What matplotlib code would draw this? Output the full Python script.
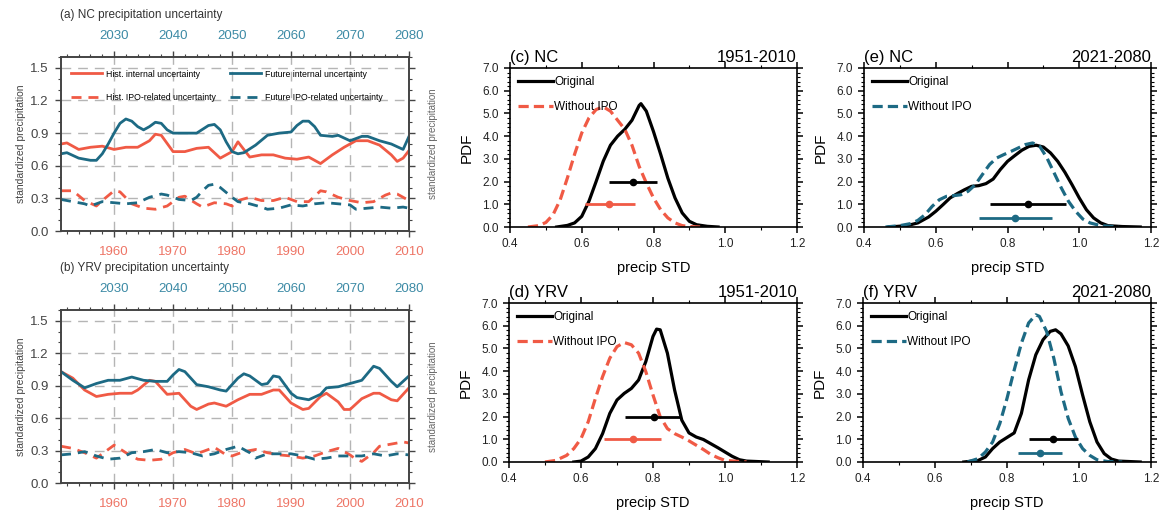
import numpy as np
import matplotlib.pyplot as plt
from matplotlib.ticker import MultipleLocator, FormatStrFormatter

plt.rcParams['font.family'] = ['Liberation Sans', 'DejaVu Sans']

RED = '#f05a45'
TEAL = '#1d6a84'
RED_LBL = '#ee7566'
TEAL_LBL = '#3c8aa5'
GRAY = '#444444'

# ---------------- (a) NC time series ----------------
nc_hist_int_yr = [1951, 1952, 1954, 1956, 1958, 1960, 1962, 1964, 1966, 1967, 1968, 1970, 1972, 1974,
                  1976, 1978, 1980, 1981, 1983, 1985, 1987, 1989, 1991, 1993, 1995, 1997, 1999, 2001,
                  2003, 2005, 2007, 2008, 2009, 2010]
nc_hist_int = [0.80, 0.81, 0.75, 0.77, 0.78, 0.75, 0.77, 0.77, 0.83, 0.89, 0.88, 0.73, 0.73, 0.76,
               0.77, 0.67, 0.73, 0.82, 0.68, 0.70, 0.70, 0.67, 0.66, 0.68, 0.62, 0.70, 0.77, 0.83,
               0.83, 0.79, 0.70, 0.64, 0.67, 0.74]

nc_fut_int_yr = [2021, 2022, 2024, 2026, 2027, 2028, 2029, 2030, 2031, 2032, 2033, 2034, 2035, 2036,
                 2037, 2038, 2039, 2040, 2042, 2044, 2046, 2047, 2048, 2049, 2050, 2051, 2052, 2054,
                 2056, 2058, 2060, 2061, 2062, 2063, 2064, 2065, 2067, 2068, 2070, 2072, 2073, 2075,
                 2077, 2079, 2080]
nc_fut_int = [0.71, 0.72, 0.67, 0.65, 0.65, 0.71, 0.80, 0.90, 0.99, 1.03, 1.01, 0.96, 0.93, 0.96,
              1.00, 0.99, 0.93, 0.90, 0.90, 0.90, 0.97, 0.98, 0.93, 0.82, 0.73, 0.71, 0.72, 0.79,
              0.88, 0.90, 0.91, 0.97, 1.01, 1.01, 0.96, 0.88, 0.87, 0.88, 0.83, 0.87, 0.87, 0.83,
              0.80, 0.75, 0.87]

nc_hist_ipo_yr = [1951, 1953, 1955, 1957, 1958, 1960, 1961, 1963, 1965, 1967, 1969, 1971, 1972, 1974,
                  1975, 1977, 1979, 1980, 1981, 1983, 1985, 1987, 1989, 1991, 1993, 1995, 1996, 1998,
                  2000, 2002, 2004, 2006, 2007, 2008, 2010]
nc_hist_ipo = [0.37, 0.37, 0.28, 0.23, 0.28, 0.37, 0.36, 0.25, 0.21, 0.20, 0.23, 0.31, 0.32, 0.25,
               0.22, 0.26, 0.25, 0.23, 0.28, 0.31, 0.28, 0.28, 0.31, 0.27, 0.27, 0.37, 0.36, 0.31,
               0.28, 0.26, 0.27, 0.33, 0.35, 0.34, 0.28]

nc_fut_ipo_yr = [2021, 2023, 2025, 2026, 2028, 2030, 2032, 2034, 2036, 2038, 2039, 2041, 2043, 2044,
                 2045, 2046, 2047, 2048, 2050, 2051, 2053, 2055, 2056, 2058, 2060, 2062, 2064, 2066,
                 2068, 2070, 2071, 2073, 2075, 2077, 2079, 2080]
nc_fut_ipo = [0.29, 0.27, 0.25, 0.23, 0.27, 0.26, 0.25, 0.26, 0.31, 0.34, 0.33, 0.29, 0.28, 0.31,
              0.37, 0.42, 0.43, 0.40, 0.31, 0.27, 0.25, 0.22, 0.20, 0.21, 0.24, 0.23, 0.25, 0.26,
              0.25, 0.24, 0.20, 0.21, 0.22, 0.21, 0.22, 0.21]

# ---------------- (b) YRV time series ----------------
yrv_hist_int_yr = [1951, 1953, 1955, 1957, 1959, 1961, 1963, 1964, 1966, 1967, 1969, 1971, 1973, 1974,
                   1976, 1977, 1979, 1981, 1983, 1985, 1987, 1988, 1990, 1992, 1993, 1995, 1996, 1998,
                   1999, 2000, 2002, 2004, 2005, 2007, 2008, 2010]
yrv_hist_int = [1.03, 0.97, 0.86, 0.80, 0.82, 0.83, 0.83, 0.86, 0.95, 0.94, 0.82, 0.83, 0.71, 0.68,
                0.73, 0.74, 0.71, 0.77, 0.82, 0.82, 0.86, 0.86, 0.74, 0.68, 0.69, 0.80, 0.83, 0.75,
                0.68, 0.68, 0.78, 0.83, 0.83, 0.77, 0.76, 0.88]

yrv_fut_int_yr = [2021, 2023, 2025, 2027, 2029, 2031, 2033, 2035, 2037, 2039, 2040, 2041, 2042, 2044,
                  2046, 2048, 2049, 2051, 2052, 2053, 2055, 2056, 2057, 2058, 2060, 2061, 2063, 2065,
                  2066, 2068, 2070, 2072, 2074, 2075, 2077, 2078, 2080]
yrv_fut_int = [1.03, 0.95, 0.88, 0.92, 0.95, 0.95, 0.98, 0.95, 0.94, 0.94, 1.00, 1.05, 1.03, 0.91,
               0.89, 0.86, 0.85, 0.97, 1.01, 0.99, 0.91, 0.92, 0.99, 0.98, 0.83, 0.79, 0.77, 0.82,
               0.88, 0.89, 0.92, 0.95, 1.08, 1.06, 0.94, 0.89, 0.99]

yrv_hist_ipo_yr = [1951, 1953, 1955, 1957, 1959, 1960, 1962, 1964, 1966, 1968, 1970, 1972, 1974, 1976,
                   1977, 1979, 1980, 1982, 1984, 1986, 1988, 1990, 1992, 1994, 1996, 1998, 2000, 2001,
                   2002, 2004, 2005, 2007, 2009, 2010]
yrv_hist_ipo = [0.34, 0.32, 0.28, 0.23, 0.31, 0.35, 0.28, 0.22, 0.21, 0.22, 0.28, 0.31, 0.27, 0.31,
                0.33, 0.26, 0.25, 0.29, 0.31, 0.28, 0.26, 0.25, 0.23, 0.25, 0.29, 0.32, 0.26, 0.22,
                0.20, 0.28, 0.34, 0.36, 0.38, 0.37]

yrv_fut_ipo_yr = [2021, 2023, 2025, 2027, 2029, 2031, 2033, 2035, 2037, 2039, 2041, 2043, 2045, 2047,
                  2049, 2051, 2053, 2054, 2056, 2058, 2060, 2062, 2064, 2066, 2068, 2070, 2072, 2074,
                  2076, 2078, 2080]
yrv_fut_ipo = [0.26, 0.27, 0.29, 0.25, 0.22, 0.23, 0.28, 0.29, 0.31, 0.28, 0.29, 0.28, 0.25, 0.27,
               0.31, 0.34, 0.28, 0.23, 0.27, 0.27, 0.27, 0.25, 0.22, 0.23, 0.25, 0.25, 0.25, 0.27,
               0.25, 0.27, 0.26]

# ---------------- PDFs ----------------
c_orig_x = [0.53, 0.56, 0.58, 0.60, 0.62, 0.64, 0.66, 0.68, 0.70, 0.72, 0.74, 0.76, 0.765, 0.78,
            0.80, 0.82, 0.84, 0.86, 0.88, 0.90, 0.92, 0.95, 0.98]
c_orig_y = [0.0, 0.07, 0.18, 0.47, 1.13, 2.0, 2.9, 3.6, 4.0, 4.3, 4.7, 5.35, 5.43, 5.1,
            4.2, 3.2, 2.15, 1.28, 0.62, 0.25, 0.1, 0.03, 0.0]
c_noipo_x = [0.45, 0.48, 0.50, 0.52, 0.54, 0.56, 0.58, 0.60, 0.62, 0.64, 0.66, 0.68, 0.70, 0.72,
             0.74, 0.76, 0.78, 0.80, 0.82, 0.84, 0.86, 0.88, 0.90, 0.93]
c_noipo_y = [0.0, 0.06, 0.2, 0.54, 1.2, 2.16, 3.2, 4.14, 4.8, 5.17, 5.29, 5.1, 4.7, 4.3,
             3.6, 2.67, 1.94, 1.28, 0.76, 0.4, 0.18, 0.06, 0.02, 0.0]

d_orig_x = [0.58, 0.60, 0.62, 0.64, 0.66, 0.68, 0.70, 0.72, 0.74, 0.76, 0.78, 0.80, 0.81, 0.82,
            0.84, 0.86, 0.88, 0.90, 0.92, 0.94, 0.96, 0.98, 1.00, 1.02, 1.04, 1.06, 1.12]
d_orig_y = [0.0, 0.04, 0.22, 0.59, 1.25, 2.14, 2.73, 3.02, 3.24, 3.61, 4.42, 5.53, 5.85, 5.82,
            4.79, 3.17, 1.84, 1.28, 1.1, 0.99, 0.81, 0.63, 0.44, 0.25, 0.1, 0.04, 0.0]
d_noipo_x = [0.50, 0.53, 0.56, 0.58, 0.60, 0.62, 0.64, 0.66, 0.68, 0.70, 0.72, 0.74, 0.76, 0.78,
             0.80, 0.82, 0.84, 0.86, 0.88, 0.90, 0.92, 0.94, 0.96, 0.98, 1.00, 1.06]
d_noipo_y = [0.0, 0.07, 0.29, 0.59, 1.03, 1.77, 2.8, 3.76, 4.57, 5.08, 5.26, 5.16, 4.79, 3.98,
             2.95, 1.99, 1.47, 1.25, 1.1, 0.93, 0.74, 0.55, 0.34, 0.19, 0.07, 0.0]

e_orig_x = [0.47, 0.52, 0.55, 0.58, 0.60, 0.62, 0.64, 0.66, 0.68, 0.70, 0.72, 0.74, 0.76, 0.78,
            0.80, 0.82, 0.84, 0.86, 0.88, 0.90, 0.92, 0.94, 0.96, 0.98, 1.00, 1.02, 1.04, 1.06,
            1.08, 1.12, 1.17]
e_orig_y = [0.0, 0.06, 0.18, 0.44, 0.69, 0.98, 1.28, 1.47, 1.64, 1.79, 1.82, 1.91, 2.11, 2.53,
            2.89, 3.14, 3.38, 3.55, 3.6, 3.52, 3.26, 2.89, 2.41, 1.86, 1.28, 0.76, 0.4, 0.18,
            0.06, 0.02, 0.0]
e_noipo_x = [0.46, 0.50, 0.53, 0.55, 0.57, 0.59, 0.61, 0.63, 0.65, 0.67, 0.69, 0.71, 0.73, 0.75,
             0.77, 0.79, 0.81, 0.83, 0.85, 0.87, 0.89, 0.91, 0.93, 0.95, 0.97, 0.99, 1.01, 1.03,
             1.06, 1.11]
e_noipo_y = [0.0, 0.06, 0.15, 0.29, 0.54, 0.91, 1.2, 1.35, 1.38, 1.42, 1.57, 1.86, 2.31, 2.75,
             3.04, 3.19, 3.33, 3.48, 3.63, 3.70, 3.55, 3.04, 2.38, 1.72, 1.13, 0.69, 0.35, 0.18,
             0.06, 0.0]

f_orig_x = [0.68, 0.72, 0.74, 0.76, 0.78, 0.80, 0.82, 0.84, 0.86, 0.88, 0.90, 0.92, 0.935, 0.95,
            0.97, 0.99, 1.01, 1.03, 1.05, 1.07, 1.09, 1.11, 1.17]
f_orig_y = [0.0, 0.07, 0.22, 0.59, 0.88, 1.08, 1.28, 2.14, 3.61, 4.72, 5.38, 5.75, 5.82, 5.64,
            5.11, 4.2, 2.95, 1.77, 0.88, 0.37, 0.13, 0.04, 0.0]
f_noipo_x = [0.69, 0.72, 0.74, 0.76, 0.78, 0.80, 0.82, 0.84, 0.86, 0.88, 0.89, 0.91, 0.93, 0.95,
             0.97, 0.99, 1.01, 1.03, 1.05, 1.08, 1.12]
f_noipo_y = [0.0, 0.15, 0.44, 0.88, 1.69, 2.8, 4.05, 5.23, 6.12, 6.48, 6.41, 5.75, 4.57, 3.09,
             1.92, 1.1, 0.59, 0.29, 0.1, 0.02, 0.0]

# spread bars: [low, mean, high, y]
c_bar_orig = [0.677, 0.744, 0.809, 2.0]
c_bar_noipo = [0.609, 0.677, 0.749, 1.0]
d_bar_orig = [0.722, 0.804, 0.876, 2.0]
d_bar_noipo = [0.665, 0.744, 0.823, 1.0]
e_bar_orig = [0.751, 0.856, 0.962, 1.0]
e_bar_noipo = [0.720, 0.822, 0.925, 0.4]
f_bar_orig = [0.860, 0.929, 0.997, 1.0]
f_bar_noipo = [0.830, 0.891, 0.952, 0.4]

W, H = 1162, 514
fig = plt.figure(figsize=(W / 100, H / 100), dpi=100)


def px_axes(l, t, r, b):
    return fig.add_axes([l / W, 1 - b / H, (r - l) / W, (b - t) / H])


def ts_panel(rect, title, title_y, hy, hv, fy, fv, hiy, hiv, fiy, fiv, legend):
    ax = px_axes(*rect)
    ax.set_xlim(1951, 2010)
    ax.set_ylim(0, 1.6)
    ax2 = ax.twiny()
    ax2.set_xlim(2021, 2080)
    l1, = ax.plot(hy, hv, color=RED, lw=2.0, label='Hist. internal uncertainty')
    l3, = ax.plot(hiy, hiv, color=RED, lw=2.0, ls=(0, (3.6, 2.5)), label='Hist. IPO-related uncertainty')
    l2, = ax2.plot(fy, fv, color=TEAL, lw=2.0, label='Future internal uncertainty')
    l4, = ax2.plot(fiy, fiv, color=TEAL, lw=2.0, ls=(0, (3.6, 2.5)), label='Future IPO-related uncertainty')

    ax.set_xticks([1960, 1970, 1980, 1990, 2000, 2010])
    ax.xaxis.set_minor_locator(MultipleLocator(2))
    ax2.set_xticks([2030, 2040, 2050, 2060, 2070, 2080])
    ax2.xaxis.set_minor_locator(MultipleLocator(2))
    ax.set_yticks([0.0, 0.3, 0.6, 0.9, 1.2, 1.5])
    ax.yaxis.set_minor_locator(MultipleLocator(0.1))
    ax.yaxis.set_major_formatter(FormatStrFormatter('%.1f'))
    ax.grid(True, which='major', color='#b5b5b5', ls=(0, (7, 5)), lw=1.0)
    ax.set_axisbelow(True)

    ax.tick_params(axis='x', which='both', direction='out', top=False, colors=GRAY,
                   labelcolor=RED_LBL, labelsize=9.5, pad=7)
    ax.tick_params(axis='y', which='both', direction='out', right=True, colors=GRAY,
                   labelcolor=GRAY, labelsize=9.5, pad=5)
    ax2.tick_params(axis='x', which='both', direction='out', colors=GRAY,
                    labelcolor=TEAL_LBL, labelsize=9.5, pad=6.5)
    for a in (ax, ax2):
        a.tick_params(which='major', length=4, width=1)
        a.tick_params(which='minor', length=2.5, width=0.8)
        for s in a.spines.values():
            s.set_color(GRAY)
            s.set_linewidth(1.2)

    ax.set_ylabel('standardized precipitation', fontsize=7.5, color=GRAY, labelpad=3)
    ax.text(1.069, 0.5, 'standardized precipitation', transform=ax.transAxes, rotation=90,
            ha='center', va='center', fontsize=7, color='#666666')
    fig.text(60 / W, 1 - title_y / H, title, fontsize=8.5, color='#333333', va='center', ha='left')

    if legend:
        ax2.legend([l1, l3, l2, l4], [l.get_label() for l in (l1, l3, l2, l4)], ncol=2,
                   loc='upper left', bbox_to_anchor=(0.015, 0.958), frameon=False, fontsize=6.3,
                   handlelength=3.5, handletextpad=0.5, columnspacing=1.6, labelspacing=1.7,
                   borderaxespad=0.2)
    return ax


def pdf_panel(rect, tag, period, col, ox, oy, nx, ny, bo, bn):
    ax = px_axes(*rect)
    ax.plot(ox, oy, color='black', lw=2.3, label='Original', solid_joinstyle='round')
    ax.plot(nx, ny, color=col, lw=2.3, ls=(0, (3.2, 1.6)), label='Without IPO')
    ax.hlines(bo[3], bo[0], bo[2], color='black', lw=2)
    ax.plot(bo[1], bo[3], 'o', color='black', ms=4.5)
    ax.hlines(bn[3], bn[0], bn[2], color=col, lw=2)
    ax.plot(bn[1], bn[3], 'o', color=col, ms=4.5)
    ax.set_xlim(0.4, 1.2)
    ax.set_ylim(0, 7)
    ax.set_xticks([0.4, 0.6, 0.8, 1.0, 1.2])
    ax.set_yticks([0, 1, 2, 3, 4, 5, 6, 7])
    ax.xaxis.set_minor_locator(MultipleLocator(0.1))
    ax.yaxis.set_minor_locator(MultipleLocator(0.2))
    ax.xaxis.set_major_formatter(FormatStrFormatter('%.1f'))
    ax.yaxis.set_major_formatter(FormatStrFormatter('%.1f'))
    ax.tick_params(which='both', direction='out', top=True, right=True, colors='black',
                   labelcolor='#222222', labelsize=8.5)
    ax.tick_params(which='major', length=4, width=1.1, pad=4)
    ax.tick_params(which='minor', length=2.5, width=0.8)
    for s in ax.spines.values():
        s.set_linewidth(1.2)
    ax.set_xlabel('precip STD', fontsize=10.5, labelpad=8)
    ax.set_ylabel('PDF', fontsize=11, labelpad=6)
    ax.set_title(tag, loc='left', fontsize=12, pad=4)
    ax.set_title(period, loc='right', fontsize=12, pad=4)
    ax.legend(loc='upper left', bbox_to_anchor=(0.0, 1.0), frameon=False, fontsize=8.5,
              handlelength=3.0, handletextpad=0.1, labelspacing=1.1, borderaxespad=0.25)
    return ax


ts_panel((61, 57, 409, 231), '(a) NC precipitation uncertainty', 15,
         nc_hist_int_yr, nc_hist_int, nc_fut_int_yr, nc_fut_int,
         nc_hist_ipo_yr, nc_hist_ipo, nc_fut_ipo_yr, nc_fut_ipo, True)
ts_panel((61, 310, 409, 483), '(b) YRV precipitation uncertainty', 268,
         yrv_hist_int_yr, yrv_hist_int, yrv_fut_int_yr, yrv_fut_int,
         yrv_hist_ipo_yr, yrv_hist_ipo, yrv_fut_ipo_yr, yrv_fut_ipo, False)

pdf_panel((510, 68, 797, 227), '(c) NC', '1951-2010', RED,
          c_orig_x, c_orig_y, c_noipo_x, c_noipo_y, c_bar_orig, c_bar_noipo)
pdf_panel((509, 303, 797, 462), '(d) YRV', '1951-2010', RED,
          d_orig_x, d_orig_y, d_noipo_x, d_noipo_y, d_bar_orig, d_bar_noipo)
pdf_panel((864, 68, 1151, 227), '(e) NC', '2021-2080', TEAL,
          e_orig_x, e_orig_y, e_noipo_x, e_noipo_y, e_bar_orig, e_bar_noipo)
pdf_panel((863, 303, 1151, 462), '(f) YRV', '2021-2080', TEAL,
          f_orig_x, f_orig_y, f_noipo_x, f_noipo_y, f_bar_orig, f_bar_noipo)

fig.savefig('out.png', dpi=100)
